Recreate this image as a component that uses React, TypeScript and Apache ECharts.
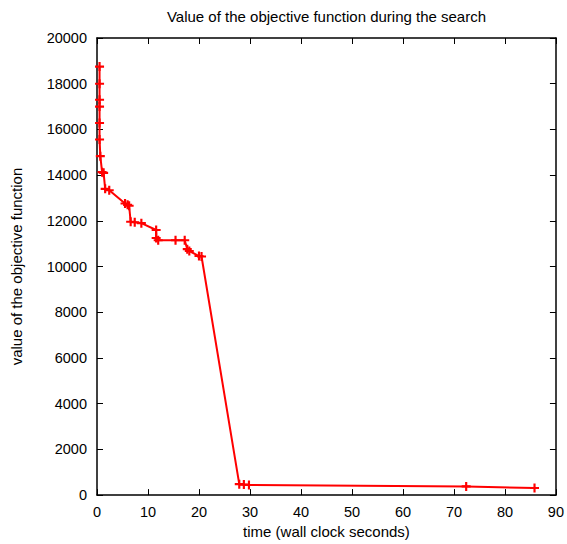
import React, { useEffect, useRef } from "react";
import * as echarts from "echarts";

const times = [0.5, 0.5, 0.5, 0.5, 0.5, 0.5, 0.65, 1.0, 1.3, 1.6, 2.4, 5.5, 6.0, 6.3, 6.6, 7.4, 8.7, 11.6, 11.6, 12.0, 15.4, 17.2, 17.7, 18.1, 20.0, 20.5, 27.9, 28.8, 29.8, 72.4, 85.8];
const values = [18750, 18000, 17300, 17000, 16280, 15560, 14830, 14130, 14100, 13400, 13340, 12760, 12700, 12660, 11960, 11940, 11900, 11600, 11250, 11150, 11150, 11150, 10760, 10680, 10460, 10440, 480, 460, 440, 380, 310];
const title = "Value of the objective function during the search";
const xName = "time (wall clock seconds)";
const yName = "value of the objective function";

const PLUS = "path://M3.8,0H6.2V3.8H10V6.2H6.2V10H3.8V6.2H0V3.8H3.8Z";

export default function App() {
  const ref = useRef<HTMLDivElement>(null);
  useEffect(() => {
    const chart = echarts.init(ref.current!, null, { renderer: "svg" });
    const font = "'Liberation Sans', Arial, sans-serif";
    const tickStyle = { show: true, inside: true, length: 6, lineStyle: { color: "#000", width: 1 } };
    const lineStyle = { show: true, onZero: false, lineStyle: { color: "#000", width: 1.5 } };
    chart.setOption({
      animation: false,
      backgroundColor: "#fff",
      textStyle: { fontFamily: font },
      graphic: [
        {
          type: "text",
          x: 326.5,
          y: 16,
          style: { text: title, fontSize: 15, fontFamily: font, fill: "#000", textAlign: "center", textVerticalAlign: "middle" },
        },
      ],
      grid: { left: 97, right: 11, top: 38, bottom: 47, show: false },
      xAxis: [
        {
          type: "value", min: 0, max: 90, interval: 10,
          name: xName, nameLocation: "middle", nameGap: 28,
          nameTextStyle: { fontSize: 15, color: "#000", fontFamily: font },
          axisLine: lineStyle,
          axisTick: tickStyle,
          axisLabel: { fontSize: 14.5, color: "#000", margin: 9, fontFamily: font },
          splitLine: { show: false },
        },
        {
          type: "value", min: 0, max: 90, interval: 10, position: "top",
          axisLine: lineStyle, axisTick: tickStyle, axisLabel: { show: false }, splitLine: { show: false },
        },
      ],
      yAxis: [
        {
          type: "value", min: 0, max: 20000, interval: 2000,
          name: yName, nameLocation: "middle", nameGap: 73, nameRotate: 90,
          nameTextStyle: { fontSize: 15, color: "#000", fontFamily: font },
          axisLine: lineStyle,
          axisTick: tickStyle,
          axisLabel: { fontSize: 14.5, color: "#000", margin: 10, fontFamily: font, formatter: (v: number) => String(v) },
          splitLine: { show: false },
        },
        {
          type: "value", min: 0, max: 20000, interval: 2000, position: "right",
          axisLine: lineStyle, axisTick: tickStyle, axisLabel: { show: false }, splitLine: { show: false },
        },
      ],
      series: [
        {
          type: "line",
          data: times.map((t, i) => [t, values[i]]),
          symbol: PLUS,
          symbolSize: 9,
          showAllSymbol: true,
          lineStyle: { color: "#ff0000", width: 2 },
          itemStyle: { color: "#ff0000" },
        },
      ],
    });
    return () => chart.dispose();
  }, []);
  return <div ref={ref} style={{ width: 567, height: 544, position: "absolute", left: 0, top: 0 }} />;
}
